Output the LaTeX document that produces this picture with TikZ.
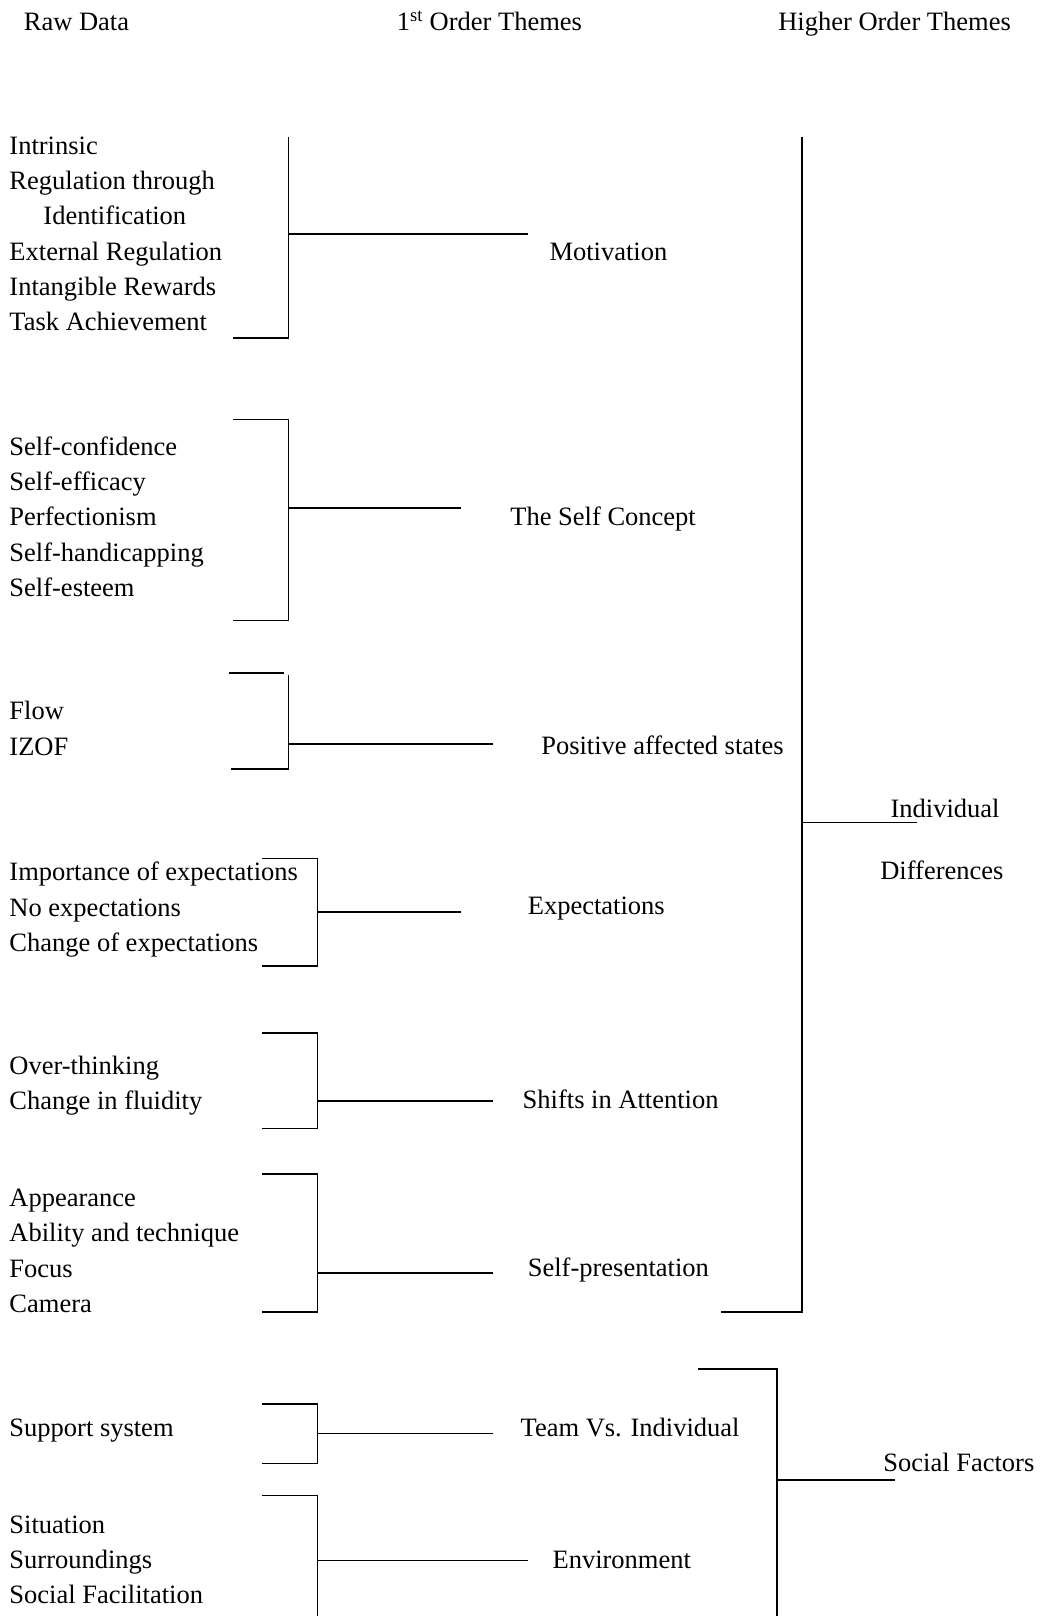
\documentclass[tikz,border=0pt]{standalone}
\usepackage{fontspec}
\setmainfont{Liberation Serif}
\usetikzlibrary{positioning}
\tikzset{
  rawtext/.style={
    anchor=north west,
    align=left,
    inner sep=0pt,
    font=\fontsize{26.5}{35.25}\selectfont
  },
  themetext/.style={
    anchor=base west,
    inner sep=0pt,
    font=\fontsize{26.5}{35.25}\selectfont
  },
  bracket/.style={
    line width=1.7pt,
    line join=miter
  }
}

\begin{document}
\begin{tikzpicture}[x=1.0307pt, y=-1.0307pt]

  \useasboundingbox (0,0) rectangle (1010,1568);

  % ==================== HEADINGS ====================
  \node (hraw) [themetext] at (23,29.5) {Raw Data};
  \node (hfirst) [themetext] at (385,29.5) {1\textsuperscript{st} Order Themes};
  \node (hhigher) [themetext] at (755,29.5) {Higher Order Themes};

  % ==================== RAW DATA ====================
  \node (rmot) [rawtext] at (9,132.5) {Intrinsic\\Regulation through\\\hspace*{34pt}Identification\\External Regulation\\Intangible Rewards\\Task Achievement};
  \node (rself) [rawtext] at (9,423.5) {Self-confidence\\Self-efficacy\\Perfectionism\\Self-handicapping\\Self-esteem};
  \node (rpos) [rawtext] at (9,680.5) {Flow\\IZOF};
  \node (rexp) [rawtext] at (9,836.5) {Importance of expectations\\No expectations\\Change of expectations};
  \node (rshift) [rawtext] at (9,1024.5) {Over-thinking\\Change in fluidity};
  \node (rpres) [rawtext] at (9,1153.5) {Appearance\\Ability and technique\\Focus\\Camera};
  \node (rteam) [rawtext] at (9,1376.5) {Support system};
  \node (renv) [rawtext] at (9,1470.5) {Situation\\Surroundings\\Social Facilitation};

  % ==================== 1ST ORDER THEMES ====================
  \node (tmot) [themetext] at (533,252.5) {Motivation};
  \node (tself) [themetext] at (495,509.5) {The Self Concept};
  \node (tpos) [themetext] at (525,732.5) {Positive affected states};
  \node (texp) [themetext] at (512,887.5) {Expectations};
  \node (tshift) [themetext] at (507,1075.5) {Shifts in Attention};
  \node (tpres) [themetext] at (512,1238.5) {Self-presentation};
  \node (tteam) [themetext] at (505,1393.5) {Team Vs. Individual};
  \node (tenv) [themetext] at (536,1521.5) {Environment};

  % ==================== HIGHER ORDER THEMES ====================
  \node (hind) [themetext] at (864,793.5) {Individual};
  \node (hdiff) [themetext] at (854,853.5) {Differences};
  \node (hsoc) [themetext] at (857,1427.5) {Social Factors};

  % Bracket joints
  \coordinate (motM) at (280,227);   \coordinate (motE) at (512,227);
  \coordinate (selfM) at (280,493);  \coordinate (selfE) at (447,493);
  \coordinate (posM) at (280,722);   \coordinate (posE) at (478,722);
  \coordinate (expM) at (308,885);   \coordinate (expE) at (447,885);
  \coordinate (shiftM) at (308,1068); \coordinate (shiftE) at (478,1068);
  \coordinate (presM) at (308,1235); \coordinate (presE) at (478,1235);
  \coordinate (teamM) at (308,1391); \coordinate (teamE) at (478,1391);
  \coordinate (envM) at (308,1514);  \coordinate (envE) at (512,1514);
  \coordinate (indM) at (778,798);   \coordinate (indE) at (890,798);
  \coordinate (socM) at (754,1436);  \coordinate (socE) at (868,1436);

  % Brackets raw data -> 1st order
  \draw [bracket] (280,133) -- (280,328) -- (226,328);
  \draw [bracket] (226,407) -- (280,407) -- (280,602) -- (226,602);
  \draw [bracket] (222,653) -- (276,653);
  \draw [bracket] (280,655) -- (280,746) -- (224,746);
  \draw [bracket] (254,833) -- (308,833) -- (308,937) -- (254,937);
  \draw [bracket] (254,1002) -- (308,1002) -- (308,1095) -- (254,1095);
  \draw [bracket] (254,1139) -- (308,1139) -- (308,1273) -- (254,1273);
  \draw [bracket] (254,1362) -- (308,1362) -- (308,1420) -- (254,1420);
  \draw [bracket] (254,1451) -- (308,1451) -- (308,1568);

  % Brackets 1st order -> higher order
  \draw [bracket] (778,133) -- (778,1273) -- (700,1273);
  \draw [bracket] (677,1328) -- (754,1328) -- (754,1568);

  % Stubs
  \draw [bracket] (motM) -- (motE);
  \draw [bracket] (selfM) -- (selfE);
  \draw [bracket] (posM) -- (posE);
  \draw [bracket] (expM) -- (expE);
  \draw [bracket] (shiftM) -- (shiftE);
  \draw [bracket] (presM) -- (presE);
  \draw [bracket] (teamM) -- (teamE);
  \draw [bracket] (envM) -- (envE);
  \draw [bracket] (indM) -- (indE);
  \draw [bracket] (socM) -- (socE);

\end{tikzpicture}
\end{document}
